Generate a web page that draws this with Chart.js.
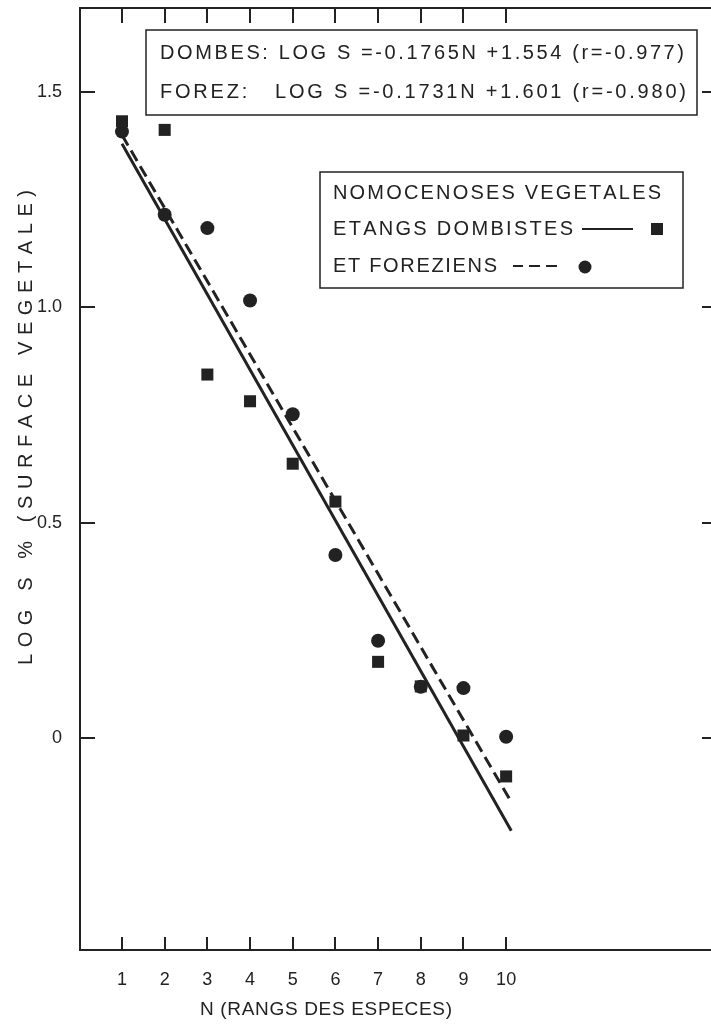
<!DOCTYPE html>
<html>
<head>
<meta charset="utf-8">
<script src="https://cdn.jsdelivr.net/npm/chart.js@4.4.0/dist/chart.umd.min.js"></script>
<style>
  html, body { margin: 0; padding: 0; background: #fff; }
  #wrap { width: 711px; height: 1024px; }
</style>
</head>
<body>
<div id="wrap"><canvas id="rankChart" width="711" height="1024"></canvas></div>
<script>
// rangs des especes (N)
const ranks = [1, 2, 3, 4, 5, 6, 7, 8, 9, 10];
// log S % des etangs dombistes (carres)
const dombesLogS = [1.432, 1.412, 0.844, 0.782, 0.637, 0.549, 0.177, 0.12, 0.006, -0.089];
// log S % des etangs foreziens (ronds)
const forezLogS = [1.408, 1.215, 1.184, 1.016, 0.752, 0.425, 0.226, 0.119, 0.116, 0.003];
// droites de regression : extremites
const dombesFitN = [1, 10.12];
const dombesFitLogS = [1.38, -0.215];
const forezFitN = [1, 10.1];
const forezFitLogS = [1.40, -0.145];
// graduations
const xTicks = [1, 2, 3, 4, 5, 6, 7, 8, 9, 10];
const yTicks = [0, 0.5, 1.0, 1.5];
const yTickLabels = ['0', '0.5', '1.0', '1.5'];
// textes
const eqLines = ['DOMBES: LOG S =-0.1765N +1.554 (r=-0.977)', 'FOREZ:   LOG S =-0.1731N +1.601 (r=-0.980)'];
const legendLines = ['NOMOCENOSES VEGETALES', 'ETANGS DOMBISTES', 'ET FOREZIENS'];
const xTitle = 'N (RANGS DES ESPECES)';
const yTitle = 'LOG S % (SURFACE VEGETALE)';

const ink = '#222';
const font = '"Liberation Sans", Arial, sans-serif';

function toPoints(xs, ys) {
    return xs.map((x, i) => ({ x: x, y: ys[i] }));
}

// texte reparti entre x0 et x1 (les lettres de la figure sont espacees)
function spaced(ctx, text, x0, x1, y) {
    const chars = [...text];
    const widths = chars.map(c => ctx.measureText(c).width);
    const total = widths.reduce((a, b) => a + b, 0);
    const gap = chars.length > 1 ? (x1 - x0 - total) / (chars.length - 1) : 0;
    let x = x0;
    chars.forEach((c, i) => {
        ctx.fillText(c, x, y);
        x += widths[i] + gap;
    });
}

const framePlugin = {
    id: 'frame',
    afterDraw(chart) {
        const ctx = chart.ctx;
        const a = chart.chartArea;
        const xs = chart.scales.x;
        const ys = chart.scales.y;
        ctx.save();
        ctx.strokeStyle = ink;
        ctx.fillStyle = ink;
        ctx.lineWidth = 2;

        // cadre
        ctx.beginPath();
        ctx.moveTo(a.right, a.top);
        ctx.lineTo(a.left, a.top);
        ctx.lineTo(a.left, a.bottom);
        ctx.lineTo(a.right, a.bottom);
        ctx.stroke();

        // graduations interieures
        ctx.beginPath();
        xTicks.forEach(v => {
            const px = Math.round(xs.getPixelForValue(v));
            ctx.moveTo(px, a.bottom); ctx.lineTo(px, a.bottom - 13);
            ctx.moveTo(px, a.top); ctx.lineTo(px, a.top + 15);
        });
        yTicks.forEach(v => {
            const py = Math.round(ys.getPixelForValue(v));
            ctx.moveTo(a.left, py); ctx.lineTo(a.left + 15, py);
            ctx.moveTo(a.right - 9, py); ctx.lineTo(a.right, py);
        });
        ctx.stroke();

        // etiquettes des axes
        ctx.font = '18px ' + font;
        ctx.textBaseline = 'middle';
        ctx.textAlign = 'center';
        xTicks.forEach(v => {
            ctx.fillText(String(v), xs.getPixelForValue(v), 980);
        });
        ctx.textAlign = 'right';
        yTicks.forEach((v, i) => {
            ctx.fillText(yTickLabels[i], 62, ys.getPixelForValue(v));
        });

        // titres des axes
        ctx.textAlign = 'left';
        ctx.font = '19px ' + font;
        spaced(ctx, xTitle, 200, 452, 1010);
        ctx.save();
        ctx.translate(26, 665);
        ctx.rotate(-Math.PI / 2);
        ctx.font = '20px ' + font;
        spaced(ctx, yTitle, 0, 475, 0);
        ctx.restore();

        // encadre des equations
        ctx.lineWidth = 1.5;
        ctx.strokeRect(146, 30, 551, 85);
        ctx.font = '20px ' + font;
        spaced(ctx, eqLines[0], 160, 684, 53);
        spaced(ctx, eqLines[1], 160, 686, 92);

        // legende
        ctx.strokeRect(320, 172, 363, 116);
        spaced(ctx, legendLines[0], 333, 661, 193);
        spaced(ctx, legendLines[1], 333, 573, 229);
        spaced(ctx, legendLines[2], 333, 497, 266);
        ctx.lineWidth = 2;
        ctx.beginPath();
        ctx.moveTo(582, 229); ctx.lineTo(633, 229);
        [[513, 523], [529, 540], [546, 557]].forEach(d => {
            ctx.moveTo(d[0], 266); ctx.lineTo(d[1], 266);
        });
        ctx.stroke();
        ctx.fillRect(651, 223, 12, 12);
        ctx.beginPath();
        ctx.arc(585, 267, 6.5, 0, Math.PI * 2);
        ctx.fill();

        ctx.restore();
    }
};

new Chart(document.getElementById('rankChart'), {
    type: 'scatter',
    data: {
        datasets: [{
            label: 'Etangs dombistes',
            data: toPoints(ranks, dombesLogS),
            pointStyle: 'rect',
            pointRadius: 8.5,
            backgroundColor: ink,
            borderColor: ink,
            borderWidth: 0
        }, {
            label: 'Etangs foreziens',
            data: toPoints(ranks, forezLogS),
            pointStyle: 'circle',
            pointRadius: 7,
            backgroundColor: ink,
            borderColor: ink,
            borderWidth: 0
        }, {
            label: 'Regression Dombes',
            data: toPoints(dombesFitN, dombesFitLogS),
            showLine: true,
            pointRadius: 0,
            borderColor: ink,
            borderWidth: 3
        }, {
            label: 'Regression Forez',
            data: toPoints(forezFitN, forezFitLogS),
            showLine: true,
            pointRadius: 0,
            borderColor: ink,
            borderWidth: 3,
            borderDash: [12, 6]
        }]
    },
    options: {
        responsive: false,
        animation: false,
        layout: {
            autoPadding: false,
            padding: { left: 80, top: 8, right: 0, bottom: 74 }
        },
        plugins: {
            legend: { display: false },
            tooltip: { enabled: false }
        },
        scales: {
            x: { type: 'linear', display: false, min: 0.016, max: 14.8 },
            y: { type: 'linear', display: false, min: -0.492, max: 1.695 }
        }
    },
    plugins: [framePlugin]
});
</script>
</body>
</html>
